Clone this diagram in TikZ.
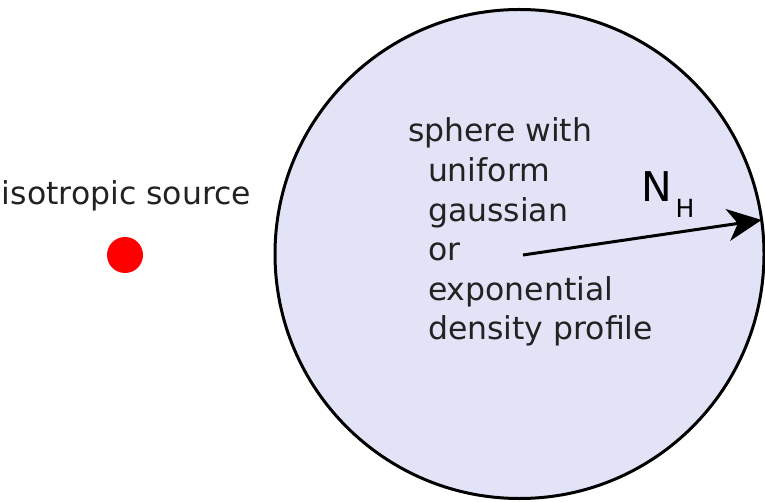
\documentclass[tikz,border=0pt]{standalone}
\usepackage{fontspec}
\setmainfont{DejaVu Sans}
\usetikzlibrary{arrows.meta,positioning}
\definecolor{spherefill}{RGB}{227,227,247}
\definecolor{srcred}{RGB}{255,0,0}
\definecolor{textgray}{RGB}{34,34,34}

\begin{document}
\begin{tikzpicture}[x=1pt,y=-1pt,>={Stealth[length=34pt,width=32pt,inset=10pt]},
line width=3pt]
\tikzstyle{every node}=[inner sep=0pt,outer sep=0pt]
\tikzstyle{label text}=[font=\fontsize{31.5}{39.6}\selectfont,text=textgray]
\useasboundingbox (0,0) rectangle (765,502);

\node[circle,draw,fill=spherefill,minimum size=489pt] (sphere) at (519.5,254) {};
\node[circle,fill=srcred,minimum size=36pt] (src) at (125,255) {};
\node[label text,anchor=base east] (srclabel) at (251,205) {isotropic source};
\node[label text,anchor=north west,align=left] (profile) at (408,118)
{sphere with\\ \hspace*{20pt}uniform\\ \hspace*{20pt}gaussian\\ \hspace*{20pt}or\\
\hspace*{20pt}exponential\\ \hspace*{20pt}density profile};
\coordinate (centre) at (523,255);
\draw[->] (centre) -- (sphere.8.5);
\node[font=\fontsize{41}{41}\selectfont,anchor=base west] (nh) at (641,202)
{N\hspace{4pt}\raisebox{-16pt}{\fontsize{25}{25}\selectfont H}};
\end{tikzpicture}
\end{document}
